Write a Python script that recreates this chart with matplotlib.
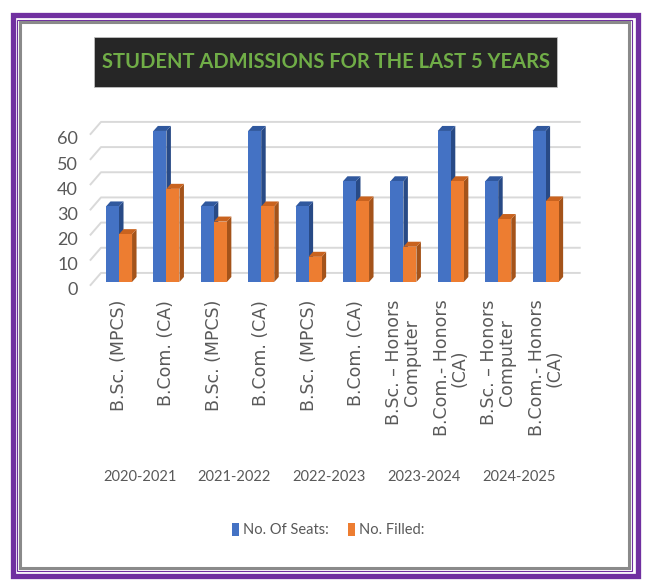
import matplotlib
matplotlib.use("Agg")
import matplotlib.pyplot as plt
from matplotlib.patches import Polygon, Rectangle, Patch
from matplotlib.transforms import ScaledTranslation

years = ["2020-2021", "2021-2022", "2022-2023", "2023-2024", "2024-2025"]
courses = [
    "B.Sc. (MPCS)", "B.Com. (CA)",
    "B.Sc. (MPCS)", "B.Com. (CA)",
    "B.Sc. (MPCS)", "B.Com. (CA)",
    "B.Sc. \u2013 Honors\nComputer", "B.Com.- Honors\n(CA)",
    "B.Sc. \u2013 Honors\nComputer", "B.Com.- Honors\n(CA)",
]
seats = [30, 60, 30, 60, 30, 40, 40, 60, 40, 60]
filled = [19, 37, 24, 30, 10, 32, 14, 40, 25, 32]
y_ticks = [0, 10, 20, 30, 40, 50, 60]

NARROW = ["Lato", "DejaVu Sans"]
GRAY_TXT = "#595959"
W, H = 654, 582


def fx(px):
    return px / W


def fy(py):
    return 1 - py / H


fig = plt.figure(figsize=(W / 100, H / 100), dpi=100)

# frame
fig.patches.append(Rectangle((fx(12.5), fy(575.5)), fx(625.5), 561 / H, transform=fig.transFigure,
                             fill=False, edgecolor="#7030a0", linewidth=3.8))
fig.patches.append(Rectangle((fx(17), fy(571)), fx(615), 551 / H, transform=fig.transFigure,
                             fill=False, edgecolor="#7030a0", linewidth=0.8))
fig.patches.append(Rectangle((fx(20), fy(568)), fx(609), 546 / H, transform=fig.transFigure,
                             fill=False, edgecolor="#8a8a8a", linewidth=2.2))

# title box
fig.patches.append(Rectangle((fx(94), fy(87)), fx(463), 50 / H, transform=fig.transFigure,
                             facecolor="#262626", edgecolor="#bfbfbf", linewidth=0.6))
fig.text(fx(325.5), fy(62), "STUDENT ADMISSIONS FOR THE LAST 5 YEARS", family=NARROW,
         fontsize=14.5, fontweight="bold", color="#70ad47", ha="center", va="center")

ax = fig.add_axes([fx(90), fy(290), fx(490), 170 / H])
ax.set_xlim(-0.612, 9.726)
ax.set_ylim(-3.18, 64.36)
for s in ax.spines.values():
    s.set_visible(False)

# back wall gridlines with slanted side edge
wall_dx, wall_dy = 0.22, 3.6
x_front = -0.6
for v in y_ticks:
    ax.plot([x_front, x_front + wall_dx, 9.72], [v - 1.2, v + wall_dy, v + wall_dy],
            color="#d9d9d9", linewidth=1.4, clip_on=False, zorder=1)

bw = 0.275
dx, dy = 0.095, 2.0


def bar3d(x0, h, front, top, side):
    x1 = x0 + bw
    ax.add_patch(Polygon([(x1, 0), (x1 + dx, dy), (x1 + dx, h + dy), (x1, h)],
                         closed=True, facecolor=side, edgecolor="none", zorder=3))
    ax.add_patch(Polygon([(x0, h), (x0 + dx, h + dy), (x1 + dx, h + dy), (x1, h)],
                         closed=True, facecolor=top, edgecolor="none", zorder=3))
    ax.bar(x0, h, width=bw, align="edge", color=front, zorder=3)


for i in range(len(courses)):
    bar3d(i - bw, seats[i], "#4472c4", "#30589e", "#284a86")
    bar3d(i, filled[i], "#ed7d31", "#c9631f", "#a4531a")

ax.set_xticks(range(len(courses)))
ax.set_xticklabels(courses, rotation=90, fontsize=12.5, color=GRAY_TXT, linespacing=1.0)
ax.set_yticks(y_ticks)
ax.set_yticklabels([str(v) for v in y_ticks], family=NARROW, fontsize=13, color=GRAY_TXT)
ax.tick_params(axis="x", length=0, pad=7)
ax.tick_params(axis="y", length=0, pad=8.6)
shift = ScaledTranslation(0, -7 / 100, fig.dpi_scale_trans)
for lab in ax.get_yticklabels():
    lab.set_transform(lab.get_transform() + shift)

for k, yr in enumerate(years):
    ax.annotate(yr, xy=(2 * k + 0.5, 0), xytext=(-3, -195), textcoords="offset pixels",
                ha="center", va="center", family=NARROW, fontsize=10.5, color=GRAY_TXT,
                annotation_clip=False)

handles = [Patch(facecolor="#4472c4", label="No. Of Seats:"),
           Patch(facecolor="#ed7d31", label="No. Filled:")]
fig.legend(handles=handles, loc="center", bbox_to_anchor=(fx(328), fy(530)), ncol=2,
           frameon=False, prop={"family": NARROW, "size": 10.5}, labelcolor=GRAY_TXT,
           handlelength=0.5, handleheight=1.0, handletextpad=0.25, columnspacing=1.3)

fig.savefig("out.png", dpi=100)
